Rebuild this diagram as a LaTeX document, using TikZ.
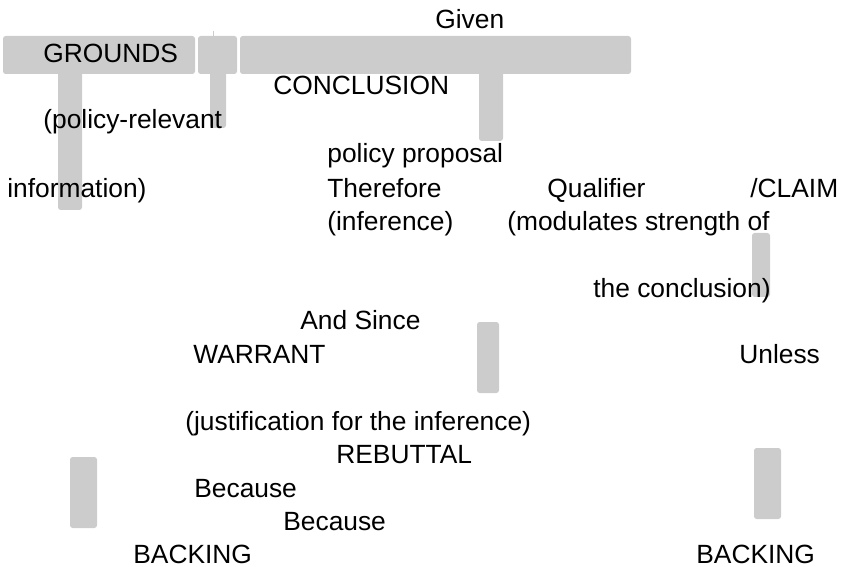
\documentclass[tikz,border=0pt]{standalone}
\usepackage{fontspec}
\setmainfont{Liberation Sans}
\tikzset{
  greybar/.style={fill=black!20, rounded corners=1.5pt},
  lbl/.style={anchor=base west, inner sep=0pt, font=\fontsize{15}{17}\selectfont}
}

\begin{document}
\begin{tikzpicture}[x=0.02cm, y=-0.02cm]

      % Marco (pixeles, y hacia abajo)
      \useasboundingbox (0,0) rectangle (841,567);

      %-------------------------------------
      % BARRAS GRISES
      %-------------------------------------
      % franja superior
      \fill[greybar] (3,36) rectangle (195,74);
      \fill[greybar] (198,36) rectangle (237,74);
      \fill[greybar] (240,36) rectangle (631,74);
      \draw[black!20, thin] (213,31) -- (213,36);

      % barras verticales
      \fill[greybar] (58,70) rectangle (82,210);
      \fill[greybar] (210,70) rectangle (226,128);
      \fill[greybar] (479,70) rectangle (503,141);
      \fill[greybar] (752,233) rectangle (770,297);
      \fill[greybar] (477,322) rectangle (499,393);
      \fill[greybar] (70,457) rectangle (97,528);
      \fill[greybar] (754,448) rectangle (781,519);

      %-------------------------------------
      % TEXTOS
      %-------------------------------------
      \node[lbl] (given) at (435,29) {Given};
      \node[lbl] (grounds) at (43,63) {GROUNDS};
      \node[lbl] (conclusion) at (273,95) {CONCLUSION};
      \node[lbl] (policyrel) at (43,129) {(policy-relevant};
      \node[lbl] (proposal) at (327,163) {policy proposal};
      \node[lbl] (information) at (7,198) {information)};
      \node[lbl] (therefore) at (327,198) {Therefore};
      \node[lbl] (qualifier) at (547,198) {Qualifier};
      \node[lbl] (claim) at (750,198) {/CLAIM};
      \node[lbl] (inference) at (327,231) {(inference)};
      \node[lbl] (modulates) at (507,231) {(modulates strength of};
      \node[lbl] (theconcl) at (593,297) {the conclusion)};

      % parte inferior
      \node[lbl] (andsince) at (300,329) {And Since};
      \node[lbl] (warrant) at (193,363) {WARRANT};
      \node[lbl] (unless) at (739,363) {Unless};
      \node[lbl] (justif) at (185,430) {(justification for the inference)};
      \node[lbl] (rebuttal) at (336,463) {REBUTTAL};
      \node[lbl] (becauseA) at (194,497) {Because};
      \node[lbl] (becauseB) at (283,530) {Because};
      \node[lbl] (backingL) at (133,563) {BACKING};
      \node[lbl] (backingR) at (696,563) {BACKING};

\end{tikzpicture}
\end{document}
